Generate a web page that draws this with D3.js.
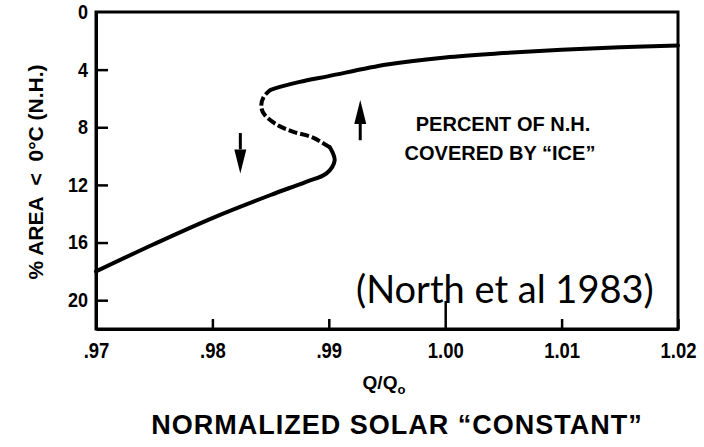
<!DOCTYPE html>
<html>
<head>
<meta charset="utf-8">
<script src="https://cdn.jsdelivr.net/npm/d3@7"></script>
<style>
  body { margin: 0; background: #fff; }
  svg { display: block; }
</style>
</head>
<body>
<svg id="chart" width="704" height="447"></svg>
<script>
// ticks
const xTicks = [0.97, 0.98, 0.99, 1.00, 1.01, 1.02];
const xTickLabels = ['.97', '.98', '.99', '1.00', '1.01', '1.02'];
const yTicks = [0, 4, 8, 12, 16, 20];

// ice-line curve (Q/Q0, % area)
const lowerBranch = [
  [0.970, 18.0], [0.975, 16.1], [0.980, 14.3], [0.985, 12.7],
  [0.988, 11.8], [0.9898, 11.2], [0.9905, 10.3], [0.9901, 9.4]
];
const unstableBranch = [
  [0.9901, 9.4], [0.9886, 8.7], [0.9869, 8.3], [0.9856, 7.85],
  [0.9845, 7.15], [0.9842, 6.6], [0.9844, 5.9], [0.9850, 5.4]
];
const upperBranch = [
  [0.9850, 5.4], [0.9858, 5.2], [0.9875, 4.85], [0.990, 4.45],
  [0.995, 3.65], [1.000, 3.15], [1.005, 2.85], [1.010, 2.62],
  [1.015, 2.45], [1.020, 2.32]
];

// hysteresis arrows: x position, tail value, tip value
const arrowX = [0.9824, 0.9927];
const arrowTail = [8.4, 8.9];
const arrowTip = [11.2, 6.1];

const svg = d3.select('#chart');
const width = 704;
const height = 447;
const margin = { top: 12, right: 26, bottom: 118, left: 96 };

const x = d3.scaleLinear()
    .domain([0.97, 1.02])
    .range([margin.left, width - margin.right]);

const y = d3.scaleLinear()
    .domain([0, 22])
    .range([margin.top, height - margin.bottom]);

const ink = '#000';
const sans = '"Liberation Sans", Arial, sans-serif';

// frame
svg.append('rect')
    .attr('x', x.range()[0])
    .attr('y', y.range()[0])
    .attr('width', x.range()[1] - x.range()[0])
    .attr('height', y.range()[1] - y.range()[0])
    .attr('fill', 'none')
    .attr('stroke', ink)
    .attr('stroke-width', 3);

// x axis, ticks pointing inward
const xAxis = svg.append('g')
    .attr('transform', `translate(0,${y.range()[1]})`)
    .call(d3.axisBottom(x)
        .tickValues(xTicks)
        .tickFormat((d, i) => xTickLabels[i])
        .tickSizeInner(-10)
        .tickSizeOuter(0)
        .tickPadding(13));
xAxis.select('.domain').attr('stroke', ink).attr('stroke-width', 3);
xAxis.selectAll('.tick line').attr('stroke', ink).attr('stroke-width', 2.5);
xAxis.selectAll('.tick line').filter(d => d === 1.00).attr('y2', -28);
xAxis.selectAll('.tick text')
    .attr('font-family', sans)
    .attr('font-weight', 'bold')
    .attr('font-size', 22)
    .attr('transform', 'scale(0.84,1)')
    .attr('fill', ink);

// y axis, ticks pointing inward
const yAxis = svg.append('g')
    .attr('transform', `translate(${x.range()[0]},0)`)
    .call(d3.axisLeft(y)
        .tickValues(yTicks)
        .tickSizeInner(-12)
        .tickSizeOuter(0)
        .tickPadding(9));
yAxis.select('.domain').attr('stroke', ink).attr('stroke-width', 3);
yAxis.selectAll('.tick line').attr('stroke', ink).attr('stroke-width', 2.5);
yAxis.selectAll('.tick line').filter(d => d === 0).remove();
yAxis.selectAll('.tick text')
    .attr('font-family', sans)
    .attr('font-weight', 'bold')
    .attr('font-size', 20)
    .attr('transform', 'scale(0.9,1)')
    .attr('fill', ink);

// curve
const line = d3.line()
    .x(d => x(d[0]))
    .y(d => y(d[1]))
    .curve(d3.curveCatmullRom.alpha(0.5));

svg.append('path')
    .datum(lowerBranch)
    .attr('d', line)
    .attr('fill', 'none')
    .attr('stroke', ink)
    .attr('stroke-width', 4)
    .attr('stroke-linecap', 'round');

svg.append('path')
    .datum(unstableBranch)
    .attr('d', line)
    .attr('fill', 'none')
    .attr('stroke', ink)
    .attr('stroke-width', 4)
    .attr('stroke-dasharray', '9,3');

svg.append('path')
    .datum(upperBranch)
    .attr('d', line)
    .attr('fill', 'none')
    .attr('stroke', ink)
    .attr('stroke-width', 4)
    .attr('stroke-linecap', 'round');

// arrows
arrowX.forEach((ax, i) => {
    const px = x(ax);
    const y0 = y(arrowTail[i]);
    const y1 = y(arrowTip[i]);
    const dir = y1 > y0 ? 1 : -1;
    const headLen = 24;
    const headHalf = 6;
    svg.append('line')
        .attr('x1', px).attr('x2', px)
        .attr('y1', y0).attr('y2', y1 - dir * headLen)
        .attr('stroke', ink)
        .attr('stroke-width', 3);
    svg.append('path')
        .attr('d', `M${px - headHalf},${y1 - dir * headLen} L${px + headHalf},${y1 - dir * headLen} L${px},${y1} Z`)
        .attr('fill', ink);
});

// annotation
const note = svg.append('text')
    .attr('text-anchor', 'middle')
    .attr('font-family', sans)
    .attr('font-weight', 'bold')
    .attr('font-size', 20)
    .attr('fill', ink);
note.append('tspan').attr('x', 503).attr('y', 131).text('PERCENT OF N.H.');
note.append('tspan').attr('x', 500).attr('y', 160).text('COVERED BY \u201CICE\u201D');

svg.append('text')
    .attr('x', 356)
    .attr('y', 303)
    .attr('font-family', 'Lato, "Open Sans", sans-serif')
    .attr('font-size', 38)
    .attr('fill', ink)
    .text('(North et al 1983)');

// axis titles
svg.append('text')
    .attr('transform', 'rotate(-90)')
    .attr('x', -172)
    .attr('y', 43)
    .attr('text-anchor', 'middle')
    .attr('font-family', sans)
    .attr('font-weight', 'bold')
    .attr('font-size', 21)
    .attr('textLength', 215)
    .attr('lengthAdjust', 'spacingAndGlyphs')
    .style('white-space', 'pre')
    .attr('fill', ink)
    .text('% AREA  <  0\u00B0C (N.H.)');

const qLabel = svg.append('text')
    .attr('x', 384)
    .attr('y', 389)
    .attr('text-anchor', 'middle')
    .attr('font-family', sans)
    .attr('font-weight', 'bold')
    .attr('font-size', 19)
    .attr('fill', ink);
qLabel.append('tspan').text('Q/Q');
qLabel.append('tspan').attr('font-size', 13).attr('dy', 5).text('o');

svg.append('text')
    .attr('x', 397)
    .attr('y', 434)
    .attr('text-anchor', 'middle')
    .attr('font-family', sans)
    .attr('font-weight', 'bold')
    .attr('font-size', 27)
    .attr('letter-spacing', 1)
    .attr('fill', ink)
    .text('NORMALIZED SOLAR \u201CCONSTANT\u201D');
</script>
</body>
</html>
